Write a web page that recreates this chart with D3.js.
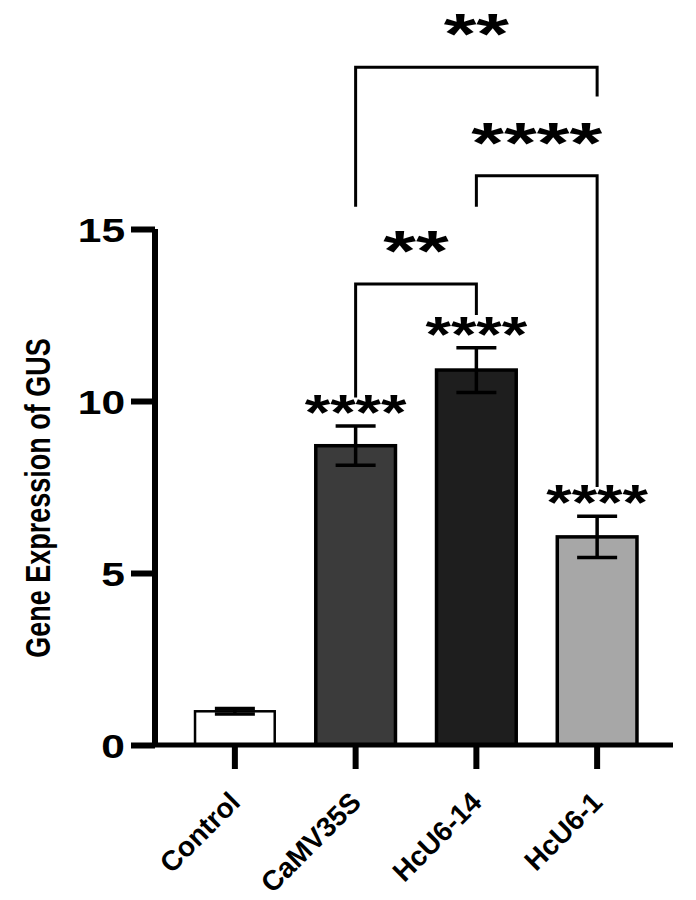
<!DOCTYPE html>
<html>
<head>
<meta charset="utf-8">
<script src="https://cdn.jsdelivr.net/npm/d3@7"></script>
<style>
  html, body { margin: 0; padding: 0; background: #fff; }
  svg { display: block; }
  text { font-family: "Liberation Sans", Arial, sans-serif; font-weight: bold; fill: #000; }
</style>
</head>
<body>
<svg id="chart" width="696" height="900"></svg>
<script>
// ---- data ----
const categories = ["Control", "CaMV35S", "HcU6-14", "HcU6-1"];
const means      = [0.98, 8.7, 10.9, 6.05];
const errors     = [0.08, 0.57, 0.65, 0.6];
const barColors  = ["#ffffff", "#3b3b3b", "#1e1e1e", "#a7a7a7"];
const barSig     = ["", "****", "****", "****"];
const yTicks     = [0, 5, 10, 15];
const yLabel     = "Gene Expression of GUS";

// comparison brackets (y values in data units)
const compFrom   = ["CaMV35S", "HcU6-14", "CaMV35S"];
const compTo     = ["HcU6-1",  "HcU6-1",  "HcU6-14"];
const compLabel  = ["**",      "****",    "**"];
const compTop    = [19.7,      16.55,     13.4];
const compLeftEnd  = [15.65,   15.65,     10.1];
const compRightEnd = [18.85,   7.5,       12.5];

// ---- layout ----
const svg = d3.select("#chart");
const y = d3.scaleLinear().domain([0, 15]).range([745, 229]);
const x = d3.scaleBand().domain(categories).range([174.5, 657.5])
  .paddingInner(0.34).paddingOuter(0.17);
const cx = c => x(c) + x.bandwidth() / 2;

// bars
const data = categories.map((c, i) => ({c, m: means[i], e: errors[i], col: barColors[i], sig: barSig[i]}));
svg.append("g").selectAll("rect").data(data).join("rect")
  .attr("x", d => x(d.c))
  .attr("y", d => y(d.m))
  .attr("width", x.bandwidth())
  .attr("height", d => y(0) - y(d.m))
  .attr("fill", d => d.col)
  .attr("stroke", "#000")
  .attr("stroke-width", (d, i) => i === 0 ? 2.5 : 3.5);

// error bars
const eb = svg.append("g").attr("stroke", "#000").attr("stroke-width", 3.5);
data.forEach(d => {
  const X = cx(d.c);
  eb.append("line").attr("x1", X).attr("x2", X).attr("y1", y(d.m + d.e)).attr("y2", y(d.m - d.e));
  eb.append("line").attr("x1", X - 20).attr("x2", X + 20).attr("y1", y(d.m + d.e)).attr("y2", y(d.m + d.e));
  eb.append("line").attr("x1", X - 20).attr("x2", X + 20).attr("y1", y(d.m - d.e)).attr("y2", y(d.m - d.e));
});

// significance stars over bars
svg.append("g").selectAll("text").data(data.filter(d => d.sig)).join("text")
  .attr("transform", d => `translate(${cx(d.c)},${y(d.m + d.e) + 4}) scale(1.31,1)`)
  .attr("text-anchor", "middle")
  .style("font-size", "50px")
  .text(d => d.sig);

// axes
const yAxis = d3.axisLeft(y).tickValues(yTicks).tickSize(24).tickPadding(6);
const gy = svg.append("g").attr("transform", "translate(155,0)").call(yAxis);
gy.select(".domain").attr("stroke", "#000").attr("stroke-width", 6).attr("d", `M0,${y(15)}V${y(0)}`);
gy.selectAll(".tick line").attr("stroke", "#000").attr("stroke-width", 6);
gy.selectAll(".tick text")
  .style("font-size", "34px")
  .attr("x", -30 / 1.25)
  .attr("dy", "0.36em")
  .attr("transform", "scale(1.25,1)");

const xAxis = d3.axisBottom(x).tickSize(24).tickPadding(6);
const gx = svg.append("g").attr("transform", `translate(0,${y(0)})`).call(xAxis);
gx.select(".domain").attr("stroke", "#000").attr("stroke-width", 5).attr("d", "M152,0H673");
gx.selectAll(".tick line").attr("stroke", "#000").attr("stroke-width", 6);
gx.selectAll(".tick text")
  .style("font-size", "28px")
  .attr("text-anchor", "end")
  .attr("dy", "0")
  .attr("y", 0)
  .attr("transform", "translate(7,59) rotate(-45)");

// y label
svg.append("text")
  .attr("transform", `translate(50,498) scale(1.3,1) rotate(-90)`)
  .attr("text-anchor", "middle")
  .style("font-size", "27px")
  .text(yLabel);

// comparison brackets
const br = svg.append("g").attr("fill", "none").attr("stroke", "#000").attr("stroke-width", 3);
compFrom.forEach((f, i) => {
  const x1 = cx(f), x2 = cx(compTo[i]);
  br.append("path").attr("d",
    `M${x1},${y(compLeftEnd[i])}V${y(compTop[i])}H${x2}V${y(compRightEnd[i])}`);
  svg.append("text")
    .attr("transform", `translate(${(x1 + x2) / 2},${y(compTop[i]) - 13}) scale(1.45,1)`)
    .attr("text-anchor", "middle")
    .style("font-size", "58px")
    .text(compLabel[i]);
});
</script>
</body>
</html>
